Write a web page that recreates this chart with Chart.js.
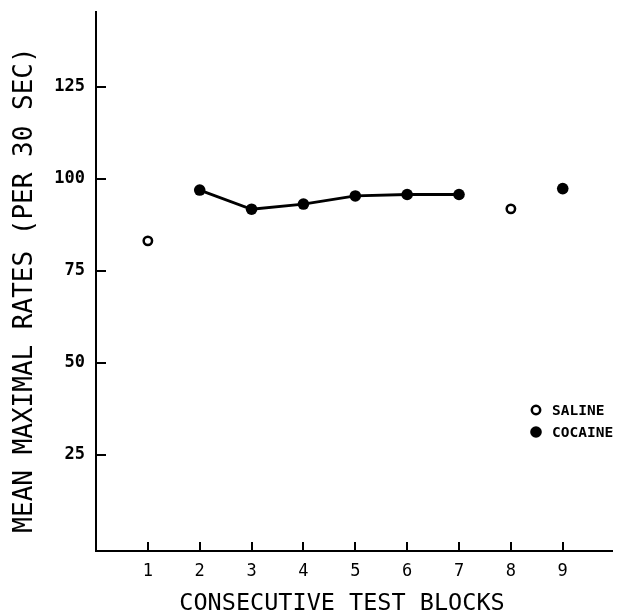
<!DOCTYPE html>
<html>
<head>
<meta charset="utf-8">
<script src="https://cdn.jsdelivr.net/npm/chart.js@4/dist/chart.umd.min.js"></script>
<style>
html,body{margin:0;padding:0;background:#fff;}
canvas{display:block;}
</style>
</head>
<body>
<canvas id="c" width="644" height="616"></canvas>
<script>
const blocks = [1, 2, 3, 4, 5, 6, 7, 8, 9];
const saline = [83.2, null, null, null, null, null, null, 91.9, null];
const cocaine = [null, 97.0, 91.8, 93.2, 95.4, 95.8, 95.8, null, 97.4];
const yTickValues = [25, 50, 75, 100, 125];
const xTickValues = [1, 2, 3, 4, 5, 6, 7, 8, 9];
const legendLabels = ['SALINE', 'COCAINE'];
const xTitle = 'CONSECUTIVE TEST BLOCKS';
const yTitle = 'MEAN MAXIMAL RATES (PER 30 SEC)';

const toPoints = arr => blocks.map((b, i) => ({x: b, y: arr[i]}));

const inwardTicks = {
  id: 'inwardTicks',
  afterDatasetsDraw(chart) {
    const ctx = chart.ctx;
    const x = chart.scales.x, y = chart.scales.y;
    const area = chart.chartArea;
    ctx.save();
    ctx.strokeStyle = '#000';
    ctx.lineWidth = 2;
    ctx.beginPath();
    y.ticks.forEach(t => {
      const py = Math.round(y.getPixelForValue(t.value));
      ctx.moveTo(area.left, py);
      ctx.lineTo(area.left + 10, py);
    });
    x.ticks.forEach(t => {
      const px = Math.round(x.getPixelForValue(t.value));
      ctx.moveTo(px, area.bottom);
      ctx.lineTo(px, area.bottom - 9);
    });
    ctx.stroke();
    ctx.restore();
  }
};

const titlesAndLegend = {
  id: 'titlesAndLegend',
  afterDraw(chart) {
    const ctx = chart.ctx;
    ctx.save();
    ctx.fillStyle = '#000';
    // x title
    ctx.font = '23.5px "DejaVu Sans Mono"';
    ctx.textAlign = 'center';
    ctx.textBaseline = 'middle';
    ctx.fillText(xTitle, 342, 604);
    // y title
    ctx.save();
    ctx.translate(25, 290);
    ctx.rotate(-Math.PI / 2);
    ctx.font = '26px "DejaVu Sans Mono"';
    ctx.fillText(yTitle, 0, 0);
    ctx.restore();
    // legend
    const ds = chart.data.datasets;
    const rows = [{y: 410, d: ds[0]}, {y: 432, d: ds[1]}];
    ctx.font = 'bold 14.5px "DejaVu Sans Mono"';
    ctx.textAlign = 'left';
    rows.forEach((r, i) => {
      ctx.beginPath();
      ctx.arc(536, r.y, r.d.pointRadius, 0, Math.PI * 2);
      if (r.d.pointBackgroundColor !== '#fff') {
        ctx.fillStyle = r.d.pointBackgroundColor;
        ctx.fill();
      } else {
        ctx.lineWidth = r.d.pointBorderWidth;
        ctx.strokeStyle = '#000';
        ctx.stroke();
      }
      ctx.fillStyle = '#000';
      ctx.fillText(legendLabels[i], 552, r.y + 1);
    });
    ctx.restore();
  }
};

new Chart(document.getElementById('c'), {
  type: 'scatter',
  data: {
    datasets: [
      {
        label: legendLabels[0],
        data: toPoints(saline),
        showLine: false,
        pointRadius: 4.2,
        pointBorderWidth: 2.5,
        pointBorderColor: '#000',
        pointBackgroundColor: '#fff'
      },
      {
        label: legendLabels[1],
        data: toPoints(cocaine),
        showLine: true,
        spanGaps: false,
        borderColor: '#000',
        borderWidth: 2.8,
        pointRadius: 5.8,
        pointBorderWidth: 0,
        pointBorderColor: '#000',
        pointBackgroundColor: '#000'
      }
    ]
  },
  options: {
    responsive: false,
    animation: false,
    devicePixelRatio: 1,
    layout: {padding: {top: 12, right: 32, left: 0, bottom: 0}},
    plugins: {legend: {display: false}, tooltip: {enabled: false}},
    scales: {
      x: {
        type: 'linear',
        min: 0,
        max: 9.95,
        afterBuildTicks: s => { s.ticks = xTickValues.map(v => ({value: v})); },
        afterFit: s => { s.height = 65; s.paddingLeft = 0; s.paddingRight = 0; },
        grid: {display: false, drawTicks: false},
        border: {display: true, color: '#000', width: 2},
        ticks: {
          color: '#000',
          padding: 10,
          font: {family: 'DejaVu Sans Mono', size: 17},
          maxRotation: 0,
          autoSkip: false
        }
      },
      y: {
        type: 'linear',
        min: -1.1,
        max: 145.4,
        afterBuildTicks: s => { s.ticks = yTickValues.map(v => ({value: v})); },
        afterFit: s => { s.width = 96; s.paddingTop = 0; s.paddingBottom = 0; },
        grid: {display: false, drawTicks: false},
        border: {display: true, color: '#000', width: 2},
        ticks: {
          color: '#000',
          padding: 11,
          font: {family: 'DejaVu Sans Mono', size: 17, weight: 'bold'},
          autoSkip: false
        }
      }
    }
  },
  plugins: [inwardTicks, titlesAndLegend]
});
</script>
</body>
</html>
